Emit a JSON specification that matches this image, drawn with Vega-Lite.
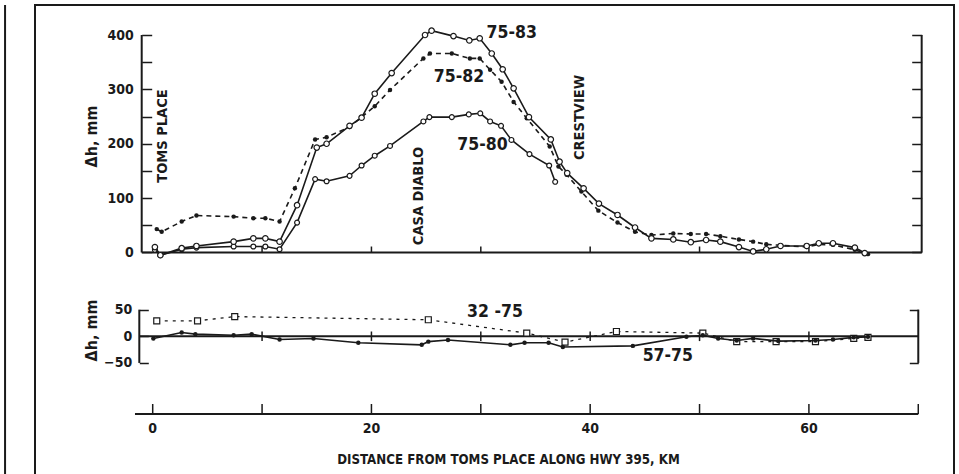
{
  "$schema": "https://vega.github.io/schema/vega-lite/v6.json",
  "width": 919,
  "height": 472,
  "autosize": {"type": "none"},
  "padding": {"left": 35, "top": 5, "right": 5, "bottom": 0},
  "background": "white",
  "config": {
    "view": {"stroke": "#1a1a1a", "strokeWidth": 2},
    "axis": {
      "domain": false, "grid": false,
      "tickColor": "#1a1a1a", "tickWidth": 1.5,
      "labelColor": "#1a1a1a", "titleColor": "#1a1a1a",
      "labelFont": "DejaVu Sans Condensed, DejaVu Sans, sans-serif",
      "titleFont": "DejaVu Sans Condensed, DejaVu Sans, sans-serif",
      "labelFontWeight": "bold", "titleFontWeight": "bold", "labelOverlap": false
    },
    "text": {"font": "DejaVu Sans Condensed, DejaVu Sans, sans-serif", "fontWeight": "bold", "color": "#1a1a1a"}
  },
  "datasets": {
    "s7583": [
      {"km": 0.2, "dh": 10}, {"km": 0.7, "dh": -5}, {"km": 2.65, "dh": 8}, {"km": 4.0, "dh": 12}, {"km": 7.4, "dh": 20},
      {"km": 9.2, "dh": 26}, {"km": 10.3, "dh": 26}, {"km": 11.6, "dh": 20}, {"km": 13.2, "dh": 87}, {"km": 15.0, "dh": 193},
      {"km": 15.9, "dh": 200}, {"km": 18.0, "dh": 233}, {"km": 19.1, "dh": 248}, {"km": 20.3, "dh": 292}, {"km": 21.85, "dh": 330},
      {"km": 24.9, "dh": 400}, {"km": 25.5, "dh": 408}, {"km": 27.5, "dh": 398}, {"km": 28.95, "dh": 390}, {"km": 29.9, "dh": 394},
      {"km": 31.0, "dh": 366}, {"km": 32.0, "dh": 337}, {"km": 33.0, "dh": 302}, {"km": 34.4, "dh": 249}, {"km": 36.4, "dh": 208},
      {"km": 37.2, "dh": 167}, {"km": 37.9, "dh": 146}, {"km": 39.4, "dh": 118}, {"km": 40.8, "dh": 90}, {"km": 42.5, "dh": 69},
      {"km": 44.1, "dh": 46}, {"km": 45.6, "dh": 26}, {"km": 47.6, "dh": 24}, {"km": 49.2, "dh": 19}, {"km": 50.6, "dh": 23},
      {"km": 51.9, "dh": 20}, {"km": 53.6, "dh": 10}, {"km": 54.9, "dh": 2}, {"km": 56.1, "dh": 6}, {"km": 57.4, "dh": 12},
      {"km": 59.8, "dh": 12}, {"km": 60.9, "dh": 17}, {"km": 62.2, "dh": 17}, {"km": 64.2, "dh": 9}, {"km": 65.1, "dh": -1}
    ],
    "s7582": [
      {"km": 0.37, "dh": 43}, {"km": 0.82, "dh": 38}, {"km": 2.65, "dh": 57}, {"km": 4.0, "dh": 68}, {"km": 7.4, "dh": 66},
      {"km": 9.2, "dh": 63}, {"km": 10.3, "dh": 63}, {"km": 11.6, "dh": 57}, {"km": 13.0, "dh": 118}, {"km": 14.85, "dh": 208},
      {"km": 15.9, "dh": 212}, {"km": 18.0, "dh": 231}, {"km": 19.1, "dh": 249}, {"km": 20.3, "dh": 269}, {"km": 21.7, "dh": 299},
      {"km": 24.75, "dh": 357}, {"km": 25.35, "dh": 366}, {"km": 27.35, "dh": 366}, {"km": 29.0, "dh": 357}, {"km": 29.9, "dh": 357},
      {"km": 30.85, "dh": 336}, {"km": 31.9, "dh": 314}, {"km": 33.0, "dh": 277}, {"km": 34.2, "dh": 247}, {"km": 36.3, "dh": 195},
      {"km": 37.1, "dh": 158}, {"km": 37.85, "dh": 143}, {"km": 39.2, "dh": 112}, {"km": 40.75, "dh": 77}, {"km": 42.5, "dh": 55},
      {"km": 44.1, "dh": 38}, {"km": 45.6, "dh": 32}, {"km": 47.6, "dh": 35}, {"km": 49.2, "dh": 34}, {"km": 50.6, "dh": 34},
      {"km": 51.9, "dh": 30}, {"km": 53.6, "dh": 24}, {"km": 54.9, "dh": 20}, {"km": 56.1, "dh": 15}, {"km": 59.8, "dh": 10},
      {"km": 60.9, "dh": 15}, {"km": 62.2, "dh": 14}, {"km": 64.2, "dh": 5}, {"km": 65.4, "dh": -3}
    ],
    "s7580": [
      {"km": 0.2, "dh": 5}, {"km": 0.7, "dh": -5}, {"km": 2.65, "dh": 6}, {"km": 4.0, "dh": 9}, {"km": 7.4, "dh": 11},
      {"km": 9.2, "dh": 11}, {"km": 10.3, "dh": 11}, {"km": 11.6, "dh": 6}, {"km": 13.2, "dh": 55}, {"km": 14.85, "dh": 135},
      {"km": 15.9, "dh": 131}, {"km": 18.0, "dh": 141}, {"km": 19.1, "dh": 160}, {"km": 20.3, "dh": 178}, {"km": 21.7, "dh": 196},
      {"km": 24.75, "dh": 241}, {"km": 25.3, "dh": 249}, {"km": 27.35, "dh": 249}, {"km": 28.9, "dh": 254}, {"km": 29.95, "dh": 256},
      {"km": 30.85, "dh": 241}, {"km": 31.85, "dh": 233}, {"km": 32.8, "dh": 207}, {"km": 34.45, "dh": 181}, {"km": 36.25, "dh": 160},
      {"km": 36.8, "dh": 130}
    ],
    "s3275": [
      {"km": 0.37, "dh": 29}, {"km": 4.1, "dh": 29}, {"km": 7.5, "dh": 37}, {"km": 25.2, "dh": 31}, {"km": 34.2, "dh": 6},
      {"km": 37.7, "dh": -11}, {"km": 42.4, "dh": 9}, {"km": 50.3, "dh": 6}, {"km": 53.4, "dh": -10}, {"km": 57.0, "dh": -10},
      {"km": 60.6, "dh": -10}, {"km": 64.1, "dh": -4}, {"km": 65.4, "dh": -2}
    ],
    "s5775": [
      {"km": 0.06, "dh": -4}, {"km": 2.65, "dh": 7}, {"km": 3.9, "dh": 4}, {"km": 7.4, "dh": 2}, {"km": 9.05, "dh": 4},
      {"km": 11.6, "dh": -6}, {"km": 14.7, "dh": -4}, {"km": 18.8, "dh": -12}, {"km": 24.6, "dh": -16}, {"km": 25.2, "dh": -10},
      {"km": 27.0, "dh": -7}, {"km": 32.7, "dh": -16}, {"km": 34.0, "dh": -12}, {"km": 36.2, "dh": -12}, {"km": 37.5, "dh": -20},
      {"km": 43.9, "dh": -18}, {"km": 48.8, "dh": -1}, {"km": 50.3, "dh": 2}, {"km": 51.7, "dh": -4}, {"km": 53.4, "dh": -8},
      {"km": 54.9, "dh": -4}, {"km": 57.2, "dh": -9}, {"km": 60.6, "dh": -8}, {"km": 62.2, "dh": -6}, {"km": 64.1, "dh": -2},
      {"km": 65.4, "dh": -1}
    ],
    "xticks": [{"km": 10}, {"km": 20}, {"km": 30}, {"km": 40}, {"km": 50}, {"km": 60}],
    "bticks": [{"km": 0}, {"km": 10}, {"km": 20}, {"km": 30}, {"km": 40}, {"km": 50}, {"km": 60}, {"km": 70}],
    "blabels": [{"km": 0}, {"km": 20}, {"km": 40}, {"km": 60}],
    "btitle": [{"t": "DISTANCE FROM TOMS PLACE ALONG HWY 395, KM", "km": 32.53, "dh": -232.1}],
    "labTop": [
      {"t": "75-83", "km": 32.82, "dh": 404.6},
      {"t": "75-82", "km": 28.0, "dh": 323.3},
      {"t": "75-80", "km": 30.15, "dh": 197.7}
    ],
    "places": [
      {"t": "TOMS PLACE", "km": 0.9, "dh": 214.3},
      {"t": "CASA DIABLO", "km": 24.35, "dh": 103.9},
      {"t": "CRESTVIEW", "km": 39.07, "dh": 248.3}
    ],
    "labLow": [
      {"t": "32 -75", "km": 31.3, "dh": 44.7},
      {"t": "57-75", "km": 47.1, "dh": -37.9}
    ],
    "one": [{}]
  },
  "resolve": {"scale": {"x": "independent", "y": "independent"}},
  "layer": [
    {
      "layer": [
        {
          "data": {"name": "one"},
          "mark": {"type": "rule", "strokeWidth": 2, "color": "#1a1a1a"},
          "encoding": {
            "x": {"datum": -13.5, "type": "quantitative", "scale": {"domain": [-10.762, 73.266], "nice": false, "zero": false}, "axis": null}
          }
        },
        {
          "data": {"name": "one"},
          "mark": {"type": "rule", "strokeWidth": 2, "color": "#1a1a1a"},
          "encoding": {
            "x": {"datum": -1.006, "type": "quantitative", "scale": {"domain": [-10.762, 73.266], "nice": false, "zero": false}, "axis": null},
            "x2": {"datum": 70.31},
            "y": {"datum": 0, "type": "quantitative", "scale": {"domain": [-412.9, 455.2], "nice": false, "zero": false}, "axis": null}
          }
        },
        {
          "data": {"name": "one"},
          "mark": {"type": "rule", "strokeWidth": 2, "color": "#1a1a1a"},
          "encoding": {
            "x": {"datum": -1.006, "type": "quantitative", "scale": {"domain": [-10.762, 73.266], "nice": false, "zero": false}, "axis": null},
            "y": {"datum": 0, "type": "quantitative", "scale": {"domain": [-412.9, 455.2], "nice": false, "zero": false},
              "axis": {"orient": "left", "offset": -106.7, "values": [0, 50, 100, 150, 200, 250, 300, 350, 400],
                "labelExpr": "datum.value % 100 == 0 ? datum.label : ''", "tickSize": -10, "labelPadding": 18.4, "labelFontSize": 14,
                "title": "Δh, mm", "titleFontSize": 16, "titleAngle": 270, "titleX": -50.7, "titleY": 131, "titleAlign": "center", "titleBaseline": "middle"}},
            "y2": {"datum": 400}
          }
        },
        {
          "data": {"name": "one"},
          "mark": {"type": "rule", "strokeWidth": 2, "color": "#1a1a1a"},
          "encoding": {
            "x": {"datum": 70.31, "type": "quantitative", "scale": {"domain": [-10.762, 73.266], "nice": false, "zero": false}, "axis": null},
            "y": {"datum": 0, "type": "quantitative", "scale": {"domain": [-412.9, 455.2], "nice": false, "zero": false},
              "axis": {"orient": "right", "offset": -32.3, "values": [0, 50, 100, 150, 200, 250, 300, 350, 400], "labels": false, "tickSize": -10, "title": null}},
            "y2": {"datum": 400}
          }
        },
        {
          "data": {"name": "xticks"},
          "mark": {"type": "rule", "strokeWidth": 1.5, "color": "#1a1a1a"},
          "encoding": {
            "x": {"field": "km", "type": "quantitative", "scale": {"domain": [-10.762, 73.266], "nice": false, "zero": false}, "axis": null},
            "y": {"datum": 0, "type": "quantitative", "scale": {"domain": [-412.9, 455.2], "nice": false, "zero": false}, "axis": null},
            "y2": {"datum": 11}
          }
        },
        {
          "data": {"name": "s7582"},
          "mark": {"type": "line", "strokeWidth": 1.6, "strokeDash": [5, 4], "color": "#1a1a1a",
            "point": {"filled": true, "size": 20, "color": "#1a1a1a"}},
          "encoding": {
            "x": {"field": "km", "type": "quantitative", "scale": {"domain": [-10.762, 73.266], "nice": false, "zero": false}, "axis": null},
            "y": {"field": "dh", "type": "quantitative", "scale": {"domain": [-412.9, 455.2], "nice": false, "zero": false}, "axis": null}
          }
        },
        {
          "data": {"name": "s7580"},
          "mark": {"type": "line", "strokeWidth": 1.6, "color": "#1a1a1a",
            "point": {"filled": true, "fill": "white", "stroke": "#1a1a1a", "strokeWidth": 1.2, "size": 24}},
          "encoding": {
            "x": {"field": "km", "type": "quantitative", "scale": {"domain": [-10.762, 73.266], "nice": false, "zero": false}, "axis": null},
            "y": {"field": "dh", "type": "quantitative", "scale": {"domain": [-412.9, 455.2], "nice": false, "zero": false}, "axis": null}
          }
        },
        {
          "data": {"name": "s7583"},
          "mark": {"type": "line", "strokeWidth": 1.6, "color": "#1a1a1a",
            "point": {"filled": true, "fill": "white", "stroke": "#1a1a1a", "strokeWidth": 1.2, "size": 30}},
          "encoding": {
            "x": {"field": "km", "type": "quantitative", "scale": {"domain": [-10.762, 73.266], "nice": false, "zero": false}, "axis": null},
            "y": {"field": "dh", "type": "quantitative", "scale": {"domain": [-412.9, 455.2], "nice": false, "zero": false}, "axis": null}
          }
        },
        {
          "data": {"name": "labTop"},
          "mark": {"type": "text", "fontSize": 17.5},
          "encoding": {
            "x": {"field": "km", "type": "quantitative", "scale": {"domain": [-10.762, 73.266], "nice": false, "zero": false}, "axis": null},
            "y": {"field": "dh", "type": "quantitative", "scale": {"domain": [-412.9, 455.2], "nice": false, "zero": false}, "axis": null},
            "text": {"field": "t"}
          }
        },
        {
          "data": {"name": "places"},
          "mark": {"type": "text", "fontSize": 14.5, "angle": 270},
          "encoding": {
            "x": {"field": "km", "type": "quantitative", "scale": {"domain": [-10.762, 73.266], "nice": false, "zero": false}, "axis": null},
            "y": {"field": "dh", "type": "quantitative", "scale": {"domain": [-412.9, 455.2], "nice": false, "zero": false}, "axis": null},
            "text": {"field": "t"}
          }
        }
      ]
    },
    {
      "layer": [
        {
          "data": {"name": "one"},
          "mark": {"type": "rule", "strokeWidth": 2, "color": "#1a1a1a"},
          "encoding": {
            "x": {"datum": -1.225, "type": "quantitative", "scale": {"domain": [-10.762, 73.266], "nice": false, "zero": false}, "axis": null},
            "x2": {"datum": 70.0},
            "y": {"datum": 0, "type": "quantitative", "scale": {"domain": [-264.0, 621.6], "nice": false, "zero": false}, "axis": null}
          }
        },
        {
          "data": {"name": "one"},
          "mark": {"type": "rule", "strokeWidth": 2, "color": "#1a1a1a"},
          "encoding": {
            "x": {"datum": -1.225, "type": "quantitative", "scale": {"domain": [-10.762, 73.266], "nice": false, "zero": false}, "axis": null},
            "y": {"datum": -50, "type": "quantitative", "scale": {"domain": [-264.0, 621.6], "nice": false, "zero": false},
              "axis": {"orient": "left", "offset": -104.3, "values": [-50, 0, 50], "tickSize": -9, "labelPadding": 16.6, "labelFontSize": 14,
                "title": "Δh, mm", "titleFontSize": 16, "titleAngle": 270, "titleX": -48.3, "titleY": 325, "titleAlign": "center", "titleBaseline": "middle"}},
            "y2": {"datum": 50}
          }
        },
        {
          "data": {"name": "one"},
          "mark": {"type": "rule", "strokeWidth": 2, "color": "#1a1a1a"},
          "encoding": {
            "x": {"datum": 70.0, "type": "quantitative", "scale": {"domain": [-10.762, 73.266], "nice": false, "zero": false}, "axis": null},
            "y": {"datum": -50, "type": "quantitative", "scale": {"domain": [-264.0, 621.6], "nice": false, "zero": false},
              "axis": {"orient": "right", "offset": -35.7, "values": [-50, 50], "labels": false, "tickSize": -9, "title": null}},
            "y2": {"datum": 50}
          }
        },
        {
          "data": {"name": "xticks"},
          "mark": {"type": "rule", "strokeWidth": 1.5, "color": "#1a1a1a"},
          "encoding": {
            "x": {"field": "km", "type": "quantitative", "scale": {"domain": [-10.762, 73.266], "nice": false, "zero": false}, "axis": null},
            "y": {"datum": -9, "type": "quantitative", "scale": {"domain": [-264.0, 621.6], "nice": false, "zero": false}, "axis": null},
            "y2": {"datum": 9}
          }
        },
        {
          "data": {"name": "one"},
          "mark": {"type": "rule", "strokeWidth": 2, "color": "#1a1a1a"},
          "encoding": {
            "x": {"datum": -1.62, "type": "quantitative", "scale": {"domain": [-10.762, 73.266], "nice": false, "zero": false}, "axis": null},
            "x2": {"datum": 70.0},
            "y": {"datum": -145.8, "type": "quantitative", "scale": {"domain": [-264.0, 621.6], "nice": false, "zero": false}, "axis": null}
          }
        },
        {
          "data": {"name": "bticks"},
          "mark": {"type": "rule", "strokeWidth": 1.5, "color": "#1a1a1a"},
          "encoding": {
            "x": {"field": "km", "type": "quantitative", "scale": {"domain": [-10.762, 73.266], "nice": false, "zero": false}, "axis": null},
            "y": {"datum": -145.8, "type": "quantitative", "scale": {"domain": [-264.0, 621.6], "nice": false, "zero": false}, "axis": null},
            "y2": {"datum": -127}
          }
        },
        {
          "data": {"name": "blabels"},
          "mark": {"type": "text", "fontSize": 14},
          "encoding": {
            "x": {"field": "km", "type": "quantitative", "scale": {"domain": [-10.762, 73.266], "nice": false, "zero": false}, "axis": null},
            "y": {"datum": -173.9, "type": "quantitative", "scale": {"domain": [-264.0, 621.6], "nice": false, "zero": false}, "axis": null},
            "text": {"field": "km", "type": "quantitative", "format": "d"}
          }
        },
        {
          "data": {"name": "btitle"},
          "mark": {"type": "text", "fontSize": 13.2},
          "encoding": {
            "x": {"field": "km", "type": "quantitative", "scale": {"domain": [-10.762, 73.266], "nice": false, "zero": false}, "axis": null},
            "y": {"field": "dh", "type": "quantitative", "scale": {"domain": [-264.0, 621.6], "nice": false, "zero": false}, "axis": null},
            "text": {"field": "t"}
          }
        },
        {
          "data": {"name": "s3275"},
          "mark": {"type": "line", "strokeWidth": 1.3, "strokeDash": [3, 5], "color": "#1a1a1a",
            "point": {"shape": "square", "filled": true, "fill": "white", "stroke": "#1a1a1a", "strokeWidth": 1.2, "size": 36}},
          "encoding": {
            "x": {"field": "km", "type": "quantitative", "scale": {"domain": [-10.762, 73.266], "nice": false, "zero": false}, "axis": null},
            "y": {"field": "dh", "type": "quantitative", "scale": {"domain": [-264.0, 621.6], "nice": false, "zero": false}, "axis": null}
          }
        },
        {
          "data": {"name": "s5775"},
          "mark": {"type": "line", "strokeWidth": 1.6, "color": "#1a1a1a",
            "point": {"filled": true, "size": 20, "color": "#1a1a1a"}},
          "encoding": {
            "x": {"field": "km", "type": "quantitative", "scale": {"domain": [-10.762, 73.266], "nice": false, "zero": false}, "axis": null},
            "y": {"field": "dh", "type": "quantitative", "scale": {"domain": [-264.0, 621.6], "nice": false, "zero": false}, "axis": null}
          }
        },
        {
          "data": {"name": "labLow"},
          "mark": {"type": "text", "fontSize": 17.5},
          "encoding": {
            "x": {"field": "km", "type": "quantitative", "scale": {"domain": [-10.762, 73.266], "nice": false, "zero": false}, "axis": null},
            "y": {"field": "dh", "type": "quantitative", "scale": {"domain": [-264.0, 621.6], "nice": false, "zero": false}, "axis": null},
            "text": {"field": "t"}
          }
        }
      ]
    }
  ]
}
